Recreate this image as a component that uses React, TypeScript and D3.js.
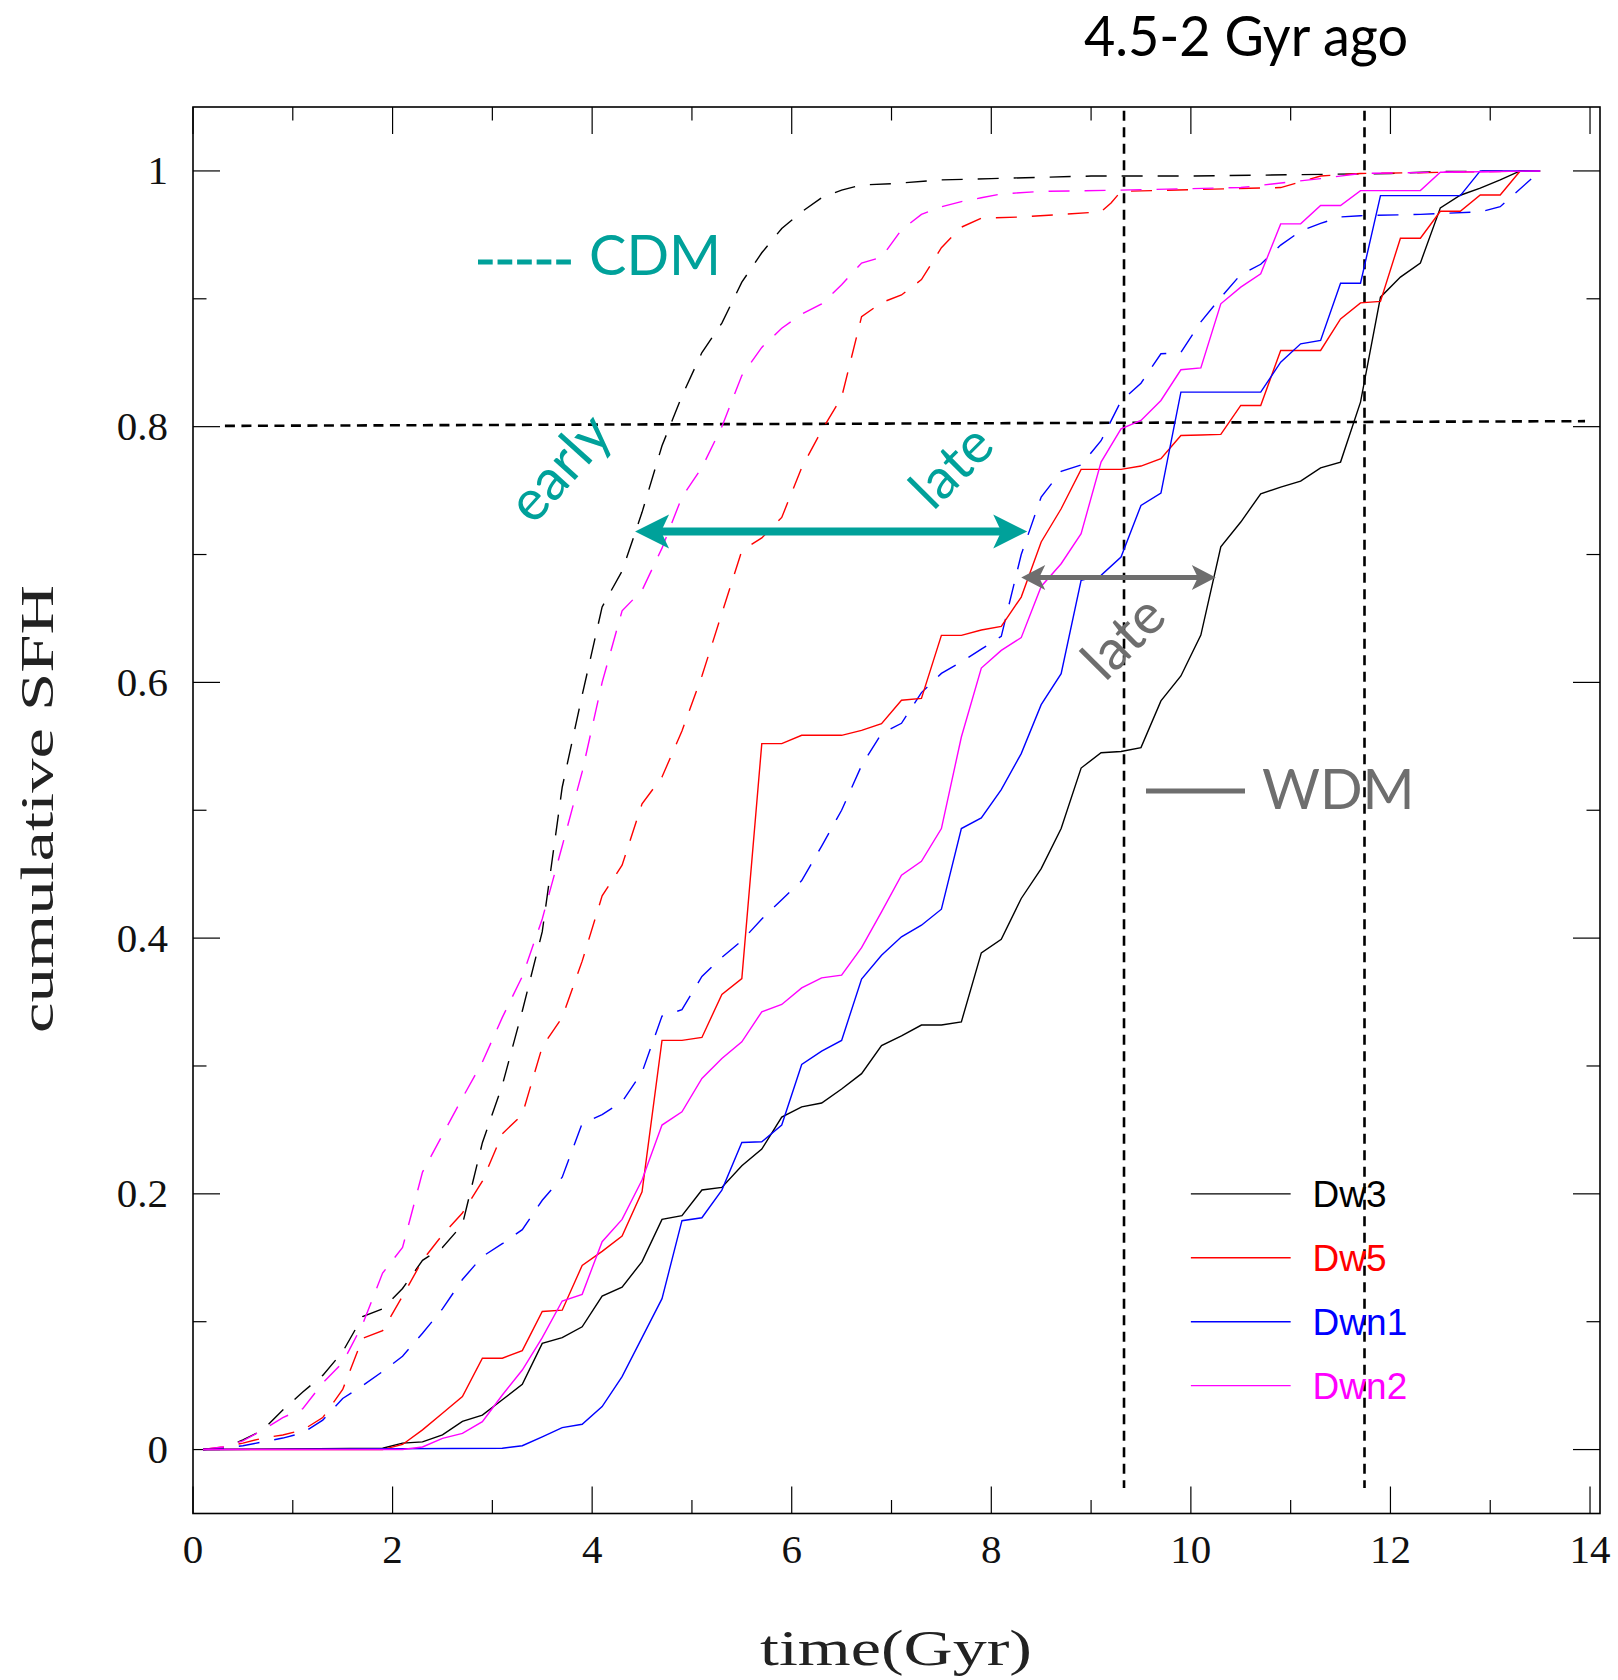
import React from 'react';
import * as d3 from 'd3';

const W = 1618;
const H = 1680;
const PLOT = { left: 193, right: 1600, top: 107, bottom: 1513.5 };

const xDomain: [number, number] = [0, 14.1];
const yDomain: [number, number] = [-0.05, 1.05];
const xMajorTicks = [0, 2, 4, 6, 8, 10, 12, 14];
const xMinorTicks = [1, 3, 5, 7, 9, 11, 13];
const yMajorTicks = [0, 0.2, 0.4, 0.6, 0.8, 1];
const yMinorTicks = [0.1, 0.3, 0.5, 0.7, 0.9];
const xTickLabels = ['0', '2', '4', '6', '8', '10', '12', '14'];
const yTickLabels = ['0', '0.2', '0.4', '0.6', '0.8', '1'];

// WDM (solid) cumulative SFH: [time Gyr, fraction]
const dw3WDM: [number, number][] = [[0.1,0],[1.9,0.001],[2.1,0.005],[2.3,0.006],[2.5,0.0115],[2.7,0.022],[2.9,0.027],[3.1,0.039],[3.3,0.051],[3.5,0.083],[3.7,0.0875],[3.9,0.096],[4.1,0.12],[4.3,0.127],[4.5,0.147],[4.7,0.18],[4.9,0.183],[5.1,0.203],[5.3,0.205],[5.5,0.222],[5.7,0.235],[5.9,0.26],[6.1,0.268],[6.3,0.271],[6.5,0.282],[6.7,0.294],[6.9,0.316],[7.1,0.3236],[7.3,0.332],[7.5,0.332],[7.7,0.3345],[7.9,0.3885],[8.1,0.399],[8.3,0.431],[8.5,0.4544],[8.7,0.4857],[8.9,0.533],[9.1,0.545],[9.3,0.546],[9.5,0.549],[9.7,0.5855],[9.9,0.605],[10.1,0.637],[10.3,0.706],[10.5,0.7254],[10.7,0.7475],[10.9,0.7527],[11.1,0.7574],[11.3,0.7678],[11.5,0.7723],[11.7,0.8192],[11.9,0.9013],[12.1,0.917],[12.3,0.928],[12.5,0.9711],[12.7,0.981],[12.9,0.9865],[13.1,0.993],[13.3,1.0],[13.5,1.0]];
const dw5WDM: [number, number][] = [[0.1,0],[1.9,0],[2.1,0.004],[2.3,0.0154],[2.5,0.0284],[2.7,0.0414],[2.9,0.0714],[3.1,0.0714],[3.3,0.0774],[3.5,0.108],[3.7,0.109],[3.9,0.144],[4.1,0.155],[4.3,0.167],[4.5,0.2016],[4.7,0.32],[4.9,0.32],[5.1,0.3223],[5.3,0.356],[5.5,0.3684],[5.7,0.5521],[5.9,0.5521],[6.1,0.5586],[6.3,0.5586],[6.5,0.5586],[6.7,0.5625],[6.9,0.5677],[7.1,0.586],[7.3,0.5875],[7.5,0.6368],[7.7,0.6368],[7.9,0.641],[8.1,0.6438],[8.3,0.6667],[8.5,0.7098],[8.7,0.7358],[8.9,0.7666],[9.1,0.7666],[9.3,0.7666],[9.5,0.7692],[9.7,0.775],[9.9,0.7931],[10.1,0.7935],[10.3,0.794],[10.5,0.8166],[10.7,0.8166],[10.9,0.8596],[11.1,0.8596],[11.3,0.8596],[11.5,0.8843],[11.7,0.8968],[11.9,0.898],[12.1,0.9474],[12.3,0.9474],[12.5,0.9685],[12.7,0.9685],[12.9,0.9812],[13.1,0.9812],[13.3,1.0],[13.5,1.0]];
const dwn1WDM: [number, number][] = [[0.1,0],[3.1,0.001],[3.3,0.003],[3.5,0.01],[3.7,0.0172],[3.9,0.0198],[4.1,0.0336],[4.3,0.057],[4.5,0.0875],[4.7,0.118],[4.9,0.179],[5.1,0.1813],[5.3,0.2029],[5.5,0.2402],[5.7,0.2407],[5.9,0.2538],[6.1,0.3012],[6.3,0.3116],[6.5,0.32],[6.7,0.368],[6.9,0.3866],[7.1,0.401],[7.3,0.4101],[7.5,0.4226],[7.7,0.4857],[7.9,0.494],[8.1,0.5162],[8.3,0.5443],[8.5,0.5826],[8.7,0.6068],[8.9,0.6798],[9.1,0.6837],[9.3,0.698],[9.5,0.7384],[9.7,0.748],[9.9,0.827],[10.1,0.827],[10.3,0.827],[10.5,0.827],[10.7,0.827],[10.9,0.8504],[11.1,0.8648],[11.3,0.8674],[11.5,0.9122],[11.7,0.9122],[11.9,0.9807],[12.1,0.9807],[12.3,0.9807],[12.5,0.9807],[12.7,0.9807],[12.9,1.0],[13.5,1.0]];
const dwn2WDM: [number, number][] = [[0.1,0],[2.1,0],[2.3,0.002],[2.5,0.0088],[2.7,0.0127],[2.9,0.0218],[3.1,0.0427],[3.3,0.0622],[3.5,0.0875],[3.7,0.1162],[3.9,0.1214],[4.1,0.1626],[4.3,0.18],[4.5,0.2108],[4.7,0.2538],[4.9,0.2642],[5.1,0.2902],[5.3,0.3059],[5.5,0.3189],[5.7,0.3424],[5.9,0.3481],[6.1,0.3611],[6.3,0.3689],[6.5,0.371],[6.7,0.3925],[6.9,0.4205],[7.1,0.4492],[7.3,0.4601],[7.5,0.4857],[7.7,0.5573],[7.9,0.6112],[8.1,0.625],[8.3,0.635],[8.5,0.675],[8.7,0.6928],[8.9,0.7163],[9.1,0.7723],[9.3,0.7983],[9.5,0.8049],[9.7,0.8205],[9.9,0.8445],[10.1,0.846],[10.3,0.8961],[10.5,0.9091],[10.7,0.9195],[10.9,0.9586],[11.1,0.9586],[11.3,0.973],[11.5,0.973],[11.7,0.9846],[11.9,0.9846],[12.1,0.9846],[12.3,0.9846],[12.5,0.999],[13.5,1.0]];

// CDM (dashed) cumulative SFH
const dw3CDM: [number, number][] = [[0.1,0],[0.3,0.001],[0.5,0.0075],[0.7,0.0153],[0.9,0.031],[1.1,0.045],[1.3,0.058],[1.5,0.0765],[1.7,0.104],[1.9,0.11],[2.1,0.126],[2.3,0.148],[2.5,0.158],[2.7,0.176],[2.9,0.24],[3.1,0.285],[3.3,0.343],[3.5,0.405],[3.7,0.518],[3.9,0.59],[4.1,0.659],[4.3,0.687],[4.5,0.733],[4.7,0.785],[4.9,0.824],[5.1,0.858],[5.3,0.881],[5.5,0.913],[5.7,0.936],[5.9,0.955],[6.1,0.968],[6.3,0.979],[6.5,0.985],[6.7,0.989],[7.0,0.99],[7.5,0.993],[8.0,0.994],[8.5,0.995],[9.0,0.996],[10.0,0.996],[11.0,0.997],[12.0,0.998],[12.5,0.9995],[13.5,1.0]];
const dw5CDM: [number, number][] = [[0.1,0],[0.3,0.002],[0.5,0.005],[0.7,0.009],[0.9,0.0114],[1.1,0.0153],[1.3,0.025],[1.5,0.047],[1.7,0.087],[1.9,0.093],[2.1,0.12],[2.3,0.148],[2.5,0.168],[2.7,0.185],[2.9,0.21],[3.1,0.247],[3.3,0.262],[3.5,0.315],[3.7,0.338],[3.9,0.382],[4.1,0.433],[4.3,0.457],[4.5,0.505],[4.7,0.526],[4.9,0.562],[5.1,0.605],[5.3,0.654],[5.5,0.703],[5.7,0.713],[5.9,0.729],[6.1,0.768],[6.3,0.797],[6.5,0.823],[6.7,0.886],[6.9,0.897],[7.1,0.903],[7.3,0.915],[7.5,0.94],[7.7,0.956],[7.9,0.963],[8.3,0.964],[8.7,0.966],[9.1,0.968],[9.2,0.975],[9.3,0.984],[10.9,0.987],[11.3,0.996],[11.7,0.998],[13.5,1.0]];
const dwn1CDM: [number, number][] = [[0.1,0],[0.3,0.001],[0.5,0.003],[0.7,0.006],[0.9,0.009],[1.1,0.013],[1.3,0.023],[1.5,0.04],[1.7,0.05],[1.9,0.061],[2.1,0.073],[2.3,0.091],[2.5,0.11],[2.7,0.133],[2.9,0.151],[3.1,0.161],[3.3,0.172],[3.5,0.195],[3.7,0.213],[3.9,0.255],[4.1,0.262],[4.3,0.272],[4.5,0.295],[4.7,0.339],[4.9,0.344],[5.1,0.37],[5.3,0.385],[5.5,0.398],[5.7,0.415],[5.9,0.43],[6.1,0.445],[6.3,0.472],[6.5,0.5],[6.7,0.535],[6.9,0.56],[7.1,0.568],[7.3,0.592],[7.5,0.607],[7.7,0.616],[7.9,0.626],[8.1,0.636],[8.3,0.7],[8.5,0.745],[8.7,0.765],[8.9,0.77],[9.1,0.789],[9.3,0.82],[9.5,0.834],[9.7,0.857],[9.9,0.858],[10.1,0.882],[10.3,0.901],[10.5,0.919],[10.7,0.927],[10.9,0.942],[11.1,0.953],[11.3,0.959],[11.5,0.964],[11.7,0.965],[12.3,0.966],[12.9,0.968],[13.1,0.972],[13.5,1.0]];
const dwn2CDM: [number, number][] = [[0.1,0],[0.3,0.002],[0.5,0.0068],[0.7,0.0153],[0.9,0.025],[1.1,0.032],[1.3,0.052],[1.5,0.068],[1.7,0.098],[1.9,0.138],[2.1,0.158],[2.3,0.217],[2.5,0.246],[2.7,0.275],[2.9,0.303],[3.1,0.338],[3.3,0.37],[3.5,0.415],[3.7,0.472],[3.9,0.53],[4.1,0.6],[4.3,0.656],[4.5,0.672],[4.7,0.705],[4.9,0.745],[5.1,0.768],[5.3,0.8],[5.5,0.84],[5.7,0.862],[5.9,0.877],[6.1,0.888],[6.3,0.896],[6.5,0.911],[6.7,0.928],[6.9,0.9325],[7.1,0.954],[7.3,0.966],[7.5,0.972],[7.7,0.976],[7.9,0.979],[8.1,0.982],[8.5,0.984],[9.3,0.985],[10.5,0.987],[11.3,0.994],[11.7,0.998],[12.5,0.999],[13.5,1.0]];

const seriesNames = ['Dw3', 'Dw5', 'Dwn1', 'Dwn2'];
const seriesColors = ['#000000', '#ff0000', '#0000ff', '#ff00ff'];
const wdmSeries = [dw3WDM, dw5WDM, dwn1WDM, dwn2WDM];
const cdmSeries = [dw3CDM, dw5CDM, dwn1CDM, dwn2CDM];
const legendRowValues = [0.2, 0.15, 0.1, 0.05];
const legendLineX: [number, number] = [10.0, 11.0];
const legendTextX = 11.22;

// reference lines
const refHLine: [number, number][] = [[0.32, 0.8006], [13.95, 0.8043]];
const refVLines = [9.33, 11.74];
const refVRange: [number, number] = [1.047, -0.03];

// arrows
const cdmArrow = { x0: 4.43, x1: 8.36, y: 0.718 };
const wdmArrow = { x0: 8.3, x1: 10.25, y: 0.682 };

const TEAL = '#00a19a';
const GRAY = '#6e6e6e';

function arrowShapes(xa: number, xb: number, y: number, len: number, half: number, notch: number) {
  const left = `M${xa},${y} L${xa + len},${y - half} L${xa + notch},${y} L${xa + len},${y + half} Z`;
  const right = `M${xb},${y} L${xb - len},${y - half} L${xb - notch},${y} L${xb - len},${y + half} Z`;
  return { left, right, s0: xa + notch - 1, s1: xb - notch + 1 };
}

export default function App() {
  const x = d3.scaleLinear().domain(xDomain).range([PLOT.left, PLOT.right]);
  const y = d3.scaleLinear().domain(yDomain).range([PLOT.bottom, PLOT.top]);
  const line = d3.line<[number, number]>().x(d => x(d[0])).y(d => y(d[1]));

  const serif = '"Liberation Serif", "DejaVu Serif", serif';
  const sans = 'Lato, "Open Sans", sans-serif';

  const ta = arrowShapes(x(cdmArrow.x0), x(cdmArrow.x1), y(cdmArrow.y), 34, 17, 26);
  const ga = arrowShapes(x(wdmArrow.x0), x(wdmArrow.x1), y(wdmArrow.y), 24, 12.5, 18);

  const LONG = 27;
  const SHORT = 13.5;

  return (
    <div style={{ position: 'absolute', left: 0, top: 0 }}>
      <svg width={W} height={H} viewBox={`0 0 ${W} ${H}`} style={{ display: 'block', background: '#fff' }}>
        <rect x={0} y={0} width={W} height={H} fill="#fff" />
        {/* title */}
        <text x={1084} y={56} fontFamily={sans} fontSize={56} fill="#000" textLength={324} lengthAdjust="spacingAndGlyphs">4.5-2 Gyr ago</text>

        {/* frame */}
        <rect x={PLOT.left} y={PLOT.top} width={PLOT.right - PLOT.left} height={PLOT.bottom - PLOT.top} fill="none" stroke="#000" strokeWidth={1.6} />

        {/* ticks */}
        <g stroke="#000" strokeWidth={1.2}>
          {xMajorTicks.map(t => (
            <g key={'xm' + t}>
              <line x1={x(t)} x2={x(t)} y1={PLOT.bottom} y2={PLOT.bottom - LONG} />
              <line x1={x(t)} x2={x(t)} y1={PLOT.top} y2={PLOT.top + LONG} />
            </g>
          ))}
          {xMinorTicks.map(t => (
            <g key={'xn' + t}>
              <line x1={x(t)} x2={x(t)} y1={PLOT.bottom} y2={PLOT.bottom - SHORT} />
              <line x1={x(t)} x2={x(t)} y1={PLOT.top} y2={PLOT.top + SHORT} />
            </g>
          ))}
          {yMajorTicks.map(t => (
            <g key={'ym' + t}>
              <line x1={PLOT.left} x2={PLOT.left + LONG} y1={y(t)} y2={y(t)} />
              <line x1={PLOT.right} x2={PLOT.right - LONG} y1={y(t)} y2={y(t)} />
            </g>
          ))}
          {yMinorTicks.map(t => (
            <g key={'yn' + t}>
              <line x1={PLOT.left} x2={PLOT.left + SHORT} y1={y(t)} y2={y(t)} />
              <line x1={PLOT.right} x2={PLOT.right - SHORT} y1={y(t)} y2={y(t)} />
            </g>
          ))}
        </g>

        {/* tick labels */}
        <g fontFamily={serif} fontSize={41} fill="#111">
          {xMajorTicks.map((t, i) => (
            <text key={'xl' + t} x={x(t)} y={1563} textAnchor="middle">{xTickLabels[i]}</text>
          ))}
          {yMajorTicks.map((t, i) => (
            <text key={'yl' + t} x={168} y={y(t) + 13.5} textAnchor="end">{yTickLabels[i]}</text>
          ))}
        </g>

        {/* axis labels */}
        <text x={896} y={1665} fontFamily={serif} fontSize={50} fill="#222" textAnchor="middle" textLength={272} lengthAdjust="spacingAndGlyphs">time(Gyr)</text>
        <text transform="translate(53,809) rotate(-90)" fontFamily={serif} fontSize={47} fill="#222" textAnchor="middle" textLength={448} lengthAdjust="spacingAndGlyphs">cumulative SFH</text>

        {/* reference lines */}
        <g stroke="#000" strokeWidth={2.6} strokeDasharray="10,6.5" fill="none">
          <path d={line(refHLine) || ''} />
          {refVLines.map(v => (
            <line key={'v' + v} x1={x(v)} x2={x(v)} y1={y(refVRange[0])} y2={y(refVRange[1])} />
          ))}
        </g>

        {/* CDM dashed curves */}
        <g fill="none" strokeWidth={1.4} strokeDasharray="21,15">
          {cdmSeries.map((s, i) => (
            <path key={'c' + i} d={line(s) || ''} stroke={seriesColors[i]} />
          ))}
        </g>
        {/* WDM solid curves */}
        <g fill="none" strokeWidth={1.4}>
          {wdmSeries.map((s, i) => (
            <path key={'w' + i} d={line(s) || ''} stroke={seriesColors[i]} />
          ))}
        </g>

        {/* legend */}
        {seriesNames.map((n, i) => (
          <g key={'lg' + n}>
            <line x1={x(legendLineX[0])} x2={x(legendLineX[1])} y1={y(legendRowValues[i])} y2={y(legendRowValues[i])} stroke={seriesColors[i]} strokeWidth={1.4} />
            <text x={x(legendTextX)} y={y(legendRowValues[i]) + 13.5} fontFamily='"Liberation Sans", Arial, sans-serif' fontSize={37} fill={seriesColors[i]}>{n}</text>
          </g>
        ))}

        {/* CDM / WDM labels */}
        <line x1={478} x2={571} y1={262} y2={262} stroke={TEAL} strokeWidth={4.8} strokeDasharray="14.7,4.85" />
        <text x={589} y={275} fontFamily={sans} fontSize={56} fill={TEAL}>CDM</text>
        <line x1={1146} x2={1245} y1={791} y2={791} stroke={GRAY} strokeWidth={4.8} />
        <text x={1262} y={809} fontFamily={sans} fontSize={56} fill={GRAY}>WDM</text>

        {/* teal arrow */}
        <line x1={ta.s0} x2={ta.s1} y1={y(cdmArrow.y)} y2={y(cdmArrow.y)} stroke={TEAL} strokeWidth={8} />
        <path d={ta.left} fill={TEAL} />
        <path d={ta.right} fill={TEAL} />
        {/* gray arrow */}
        <line x1={ga.s0} x2={ga.s1} y1={y(wdmArrow.y)} y2={y(wdmArrow.y)} stroke={GRAY} strokeWidth={5} />
        <path d={ga.left} fill={GRAY} />
        <path d={ga.right} fill={GRAY} />

        {/* rotated annotations */}
        <text transform="translate(574,481) rotate(-48)" fontFamily={sans} fontSize={57} fill={TEAL} textAnchor="middle">early</text>
        <text transform="translate(965,480) rotate(-45)" fontFamily={sans} fontSize={56} fill={TEAL} textAnchor="middle">late</text>
        <text transform="translate(1137,651) rotate(-45)" fontFamily={sans} fontSize={56} fill={GRAY} textAnchor="middle">late</text>
      </svg>
    </div>
  );
}
